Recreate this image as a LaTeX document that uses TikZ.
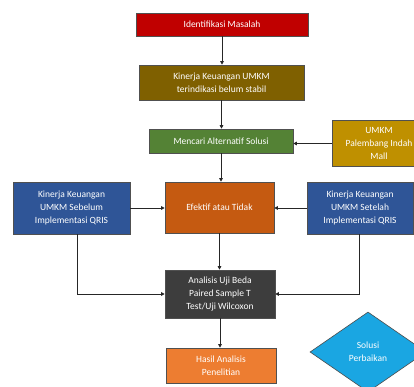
\documentclass[tikz,border=0pt]{standalone}
\usepackage{fontspec}
\setmainfont{Carlito}
\usetikzlibrary{arrows.meta,shapes.geometric}
\definecolor{cred}{HTML}{C00000}
\definecolor{colive}{HTML}{7F6000}
\definecolor{cgreen}{HTML}{548235}
\definecolor{cgold}{HTML}{BF9000}
\definecolor{cblue}{HTML}{2F5597}
\definecolor{crust}{HTML}{C55A11}
\definecolor{cgray}{HTML}{3D3D3D}
\definecolor{corange}{HTML}{ED7D31}
\definecolor{csky}{HTML}{1AA6E2}
\definecolor{cedge}{HTML}{505050}
\begin{document}
\begin{tikzpicture}[x=1pt,y=-1pt,
        box/.style={rectangle, draw=cedge, line width=0.6pt, text=white, align=center,
            inner sep=0pt, font=\fontsize{9.5}{13}\selectfont},
        link/.style={draw=black!85, line width=0.9pt, -{Triangle[length=3.5pt,width=3.5pt]}}]
        \useasboundingbox (0,0) rectangle (414,387);
        \clip (0,0) rectangle (414,387);
        \fill [white] (0,0) rectangle (414,387);
        \node [box, fill=cred, minimum width=172pt, minimum height=23pt] (masalah) at (222,24.5) {Identifikasi Masalah};
        \node [box, fill=colive, minimum width=165pt, minimum height=35pt] (kinerja) at (221.5,82.5) {Kinerja Keuangan UMKM\\terindikasi belum stabil};
        \node [box, fill=cgreen, minimum width=144pt, minimum height=24pt] (solusi) at (221,141) {Mencari Alternatif Solusi};
        \node [box, fill=cgold, minimum width=94pt, minimum height=46pt] (umkm) at (379,143.5) {UMKM\\Palembang Indah\\Mall};
        \node [box, fill=cblue, minimum width=117pt, minimum height=52pt] (sebelum) at (71.5,208) {Kinerja Keuangan\\UMKM Sebelum\\Implementasi QRIS};
        \node [box, fill=crust, minimum width=109pt, minimum height=51pt] (efektif) at (219.5,207.5) {Efektif atau Tidak};
        \node [box, fill=cblue, minimum width=106pt, minimum height=52pt] (setelah) at (360,208) {Kinerja Keuangan\\UMKM Setelah\\Implementasi QRIS};
        \node [box, fill=cgray, minimum width=110pt, minimum height=48pt] (analisis) at (220,294) {Analisis Uji Beda\\Paired Sample T\\Test/Uji Wilcoxon};
        \node [box, fill=corange, minimum width=110pt, minimum height=35pt] (hasil) at (221,365.5) {Hasil Analisis\\Penelitian};
        \node [box, diamond, fill=csky, draw=black!70, minimum width=116pt, minimum height=80pt] (perbaikan) at (368,352) {Solusi\\Perbaikan};
        % alur utama
        \draw [link] (masalah.south) -- (masalah.south |- kinerja.north);
        \draw [link] (kinerja.south) -- (kinerja.south |- solusi.north);
        \draw [link] (solusi.south) -- (solusi.south |- efektif.north);
        \draw [link] (efektif.south) -- (efektif.south |- analisis.north);
        \draw [link] (analisis.south) -- (analisis.south |- hasil.north);
        % masukan samping
        \draw [link] (umkm.west) -- (umkm.west -| solusi.east);
        \draw [link] (sebelum.east) -- (sebelum.east -| efektif.west);
        \draw [link] (setelah.west) -- (setelah.west -| efektif.east);
        \draw [link] ([xshift=5.5pt]sebelum.south) |- (analisis.west);
        \draw [link] ([xshift=-1pt]setelah.south) |- (analisis.east);
\end{tikzpicture}
\end{document}
